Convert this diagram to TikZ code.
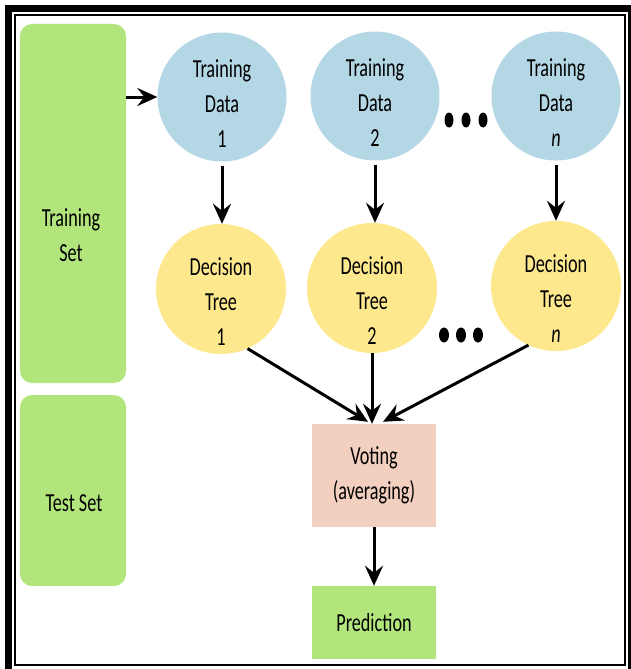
\documentclass[tikz,border=0pt]{standalone}
\usepackage{fontspec}
\setmainfont{Carlito}[FakeStretch=0.7]
\usepackage{tikz}
\usepackage{xcolor}
\usetikzlibrary{arrows.meta}

\definecolor{setgreen}{HTML}{B2E67D}
\definecolor{datablue}{HTML}{B4D7E6}
\definecolor{treeyellow}{HTML}{FDE88E}
\definecolor{votesalmon}{HTML}{F2CFBE}

% pushes the lines of a circle's text down a little
\newcommand{\padtop}[1]{\rule{0pt}{#1}}

\begin{document}
\begin{tikzpicture}[x=1pt,y=-1pt,
    every node/.style={font=\fontsize{26pt}{35pt}\selectfont, text=black,
      align=center, inner sep=0pt},
    setbox/.style={rectangle, rounded corners=12pt, fill=setgreen, minimum width=106pt},
    datacirc/.style={circle, fill=datablue, minimum size=129pt},
    treecirc/.style={circle, fill=treeyellow, minimum size=130pt},
    stepbox/.style={rectangle, minimum width=124pt},
    arr/.style={line width=3pt, -{Stealth[length=20pt,width=18pt,inset=7pt]}}]
    \useasboundingbox (0,0) rectangle (631,669);
    % frame
    \draw[line width=7pt] (8.5,8.5) rectangle (631.5,673.5);
    \draw[line width=2pt] (15,15) rectangle (625,665);

    % left column
    \node[setbox, minimum height=359pt] (trainset) at (73,203.5) {};
    \node (trainlbl) at (71,235) {Training\\Set};
    \node[setbox, minimum height=191pt] (testset) at (73,490.5) {};
    \node (testlbl) at (74,503) {Test Set};

    % training data
    \node[datacirc] (td1) at (222,97) {\padtop{30pt}Training\\Data\\1};
    \node[datacirc] (td2) at (375,96) {\padtop{30pt}Training\\Data\\2};
    \node[datacirc] (tdn) at (556,96) {\padtop{30pt}Training\\Data\\\textit{n}};
    \fill (449,120) ellipse [x radius=4.5pt, y radius=7.5pt];
    \fill (466,120) ellipse [x radius=4.5pt, y radius=7.5pt];
    \fill (483,120) ellipse [x radius=4.5pt, y radius=7.5pt];

    % decision trees
    \node[treecirc] (dt1) at (221,289) {\padtop{42pt}Decision\\Tree\\1};
    \node[treecirc] (dt2) at (372,288) {\padtop{42pt}Decision\\Tree\\2};
    \node[treecirc] (dtn) at (556,286) {\padtop{42pt}Decision\\Tree\\\textit{n}};
    \fill (444,335) ellipse [x radius=5pt, y radius=7.5pt];
    \fill (461,335) ellipse [x radius=5pt, y radius=7.5pt];
    \fill (478,335) ellipse [x radius=5pt, y radius=7.5pt];

    % voting and prediction
    \node[stepbox, fill=votesalmon, minimum height=103pt] (vote) at (374,475.5) {Voting\\(averaging)};
    \node[stepbox, fill=setgreen, minimum height=73pt] (pred) at (374,622.5) {Prediction};

    \draw[arr] (trainset.east |- td1.west) -- (td1.west);
    \draw[arr, shorten <=4pt] (td1.south) -- (td1.south |- dt1.north);
    \draw[arr, shorten <=4pt] (td2.south) -- (td2.south |- dt2.north);
    \draw[arr, shorten <=4pt] (tdn.south) -- (tdn.south |- dtn.north);
    \draw[arr] (dt1.-66) -- ([xshift=-6pt, yshift=2pt]vote.north);
    \draw[arr] (dt2.south) -- (dt2.south |- vote.north);
    \draw[arr] (dtn.-115) -- ([xshift=9pt, yshift=2pt]vote.north);
    \draw[arr] (vote.south) -- (pred.north);
\end{tikzpicture}
\end{document}
